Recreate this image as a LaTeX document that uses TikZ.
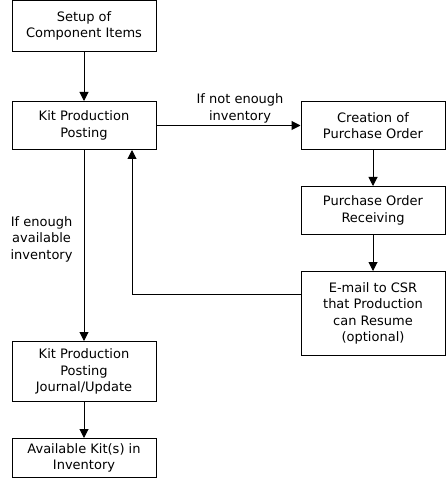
\documentclass[tikz,border=0pt]{standalone}
\usepackage{fontspec}
\setmainfont{DejaVu Sans}
\usetikzlibrary{arrows.meta, positioning}
\tikzstyle{process} = [rectangle, minimum width=144pt, text centered, align=center, draw=black, line width=1pt, inner sep=2pt, font=\fontsize{13}{16.5}\selectfont]
\tikzstyle{arrow} = [line width=1pt,-{Triangle[length=9pt,width=9pt]}]
\tikzset{
    descr/.style={
        align=center,
        inner sep=2pt,
        font=\fontsize{13}{16.5}\selectfont
    }
}
\begin{document}
\begin{tikzpicture}
	\useasboundingbox (0,0) rectangle (447pt,-486pt);
	\node (setupItems) [process, minimum height=51pt] at (84pt,-26pt) {Setup of\\Component Items};
	\node (kitPosting) [process, minimum height=48pt, below = 49pt of setupItems] {Kit Production\\Posting};
	\node (createPO) [process, minimum height=48pt, right = 144pt of kitPosting] {Creation of\\Purchase Order};
	\node (receivePO) [process, minimum height=48pt, below = 36pt of createPO] {Purchase Order\\Receiving};
	\node (emailCSR) [process, minimum height=84pt, below = 36pt of receivePO] {E-mail to CSR\\that Production\\can Resume\\(optional)};
	\node (postJournal) [process, minimum height=60pt, below = 191pt of kitPosting] {Kit Production\\Posting\\Journal/Update};
	\node (availKits) [process, minimum height=39pt, below = 36pt of postJournal] {Available Kit(s) in\\Inventory};
	\draw [arrow] (setupItems) -- (kitPosting);
	\draw [arrow] (kitPosting) -- node [descr, above, pos=0.58] {If not enough\\inventory} (createPO);
	\draw [arrow] (createPO) -- (receivePO);
	\draw [arrow] (receivePO) -- (emailCSR);
	\draw [arrow] (kitPosting) -- node [descr, left=9pt, pos=0.466] {If enough\\available\\inventory} (postJournal);
	\draw [arrow] (postJournal) -- (availKits);
	\draw [arrow] ([yshift=19pt]emailCSR.west) -| ([xshift=48pt]kitPosting.south);
\end{tikzpicture}
\end{document}
